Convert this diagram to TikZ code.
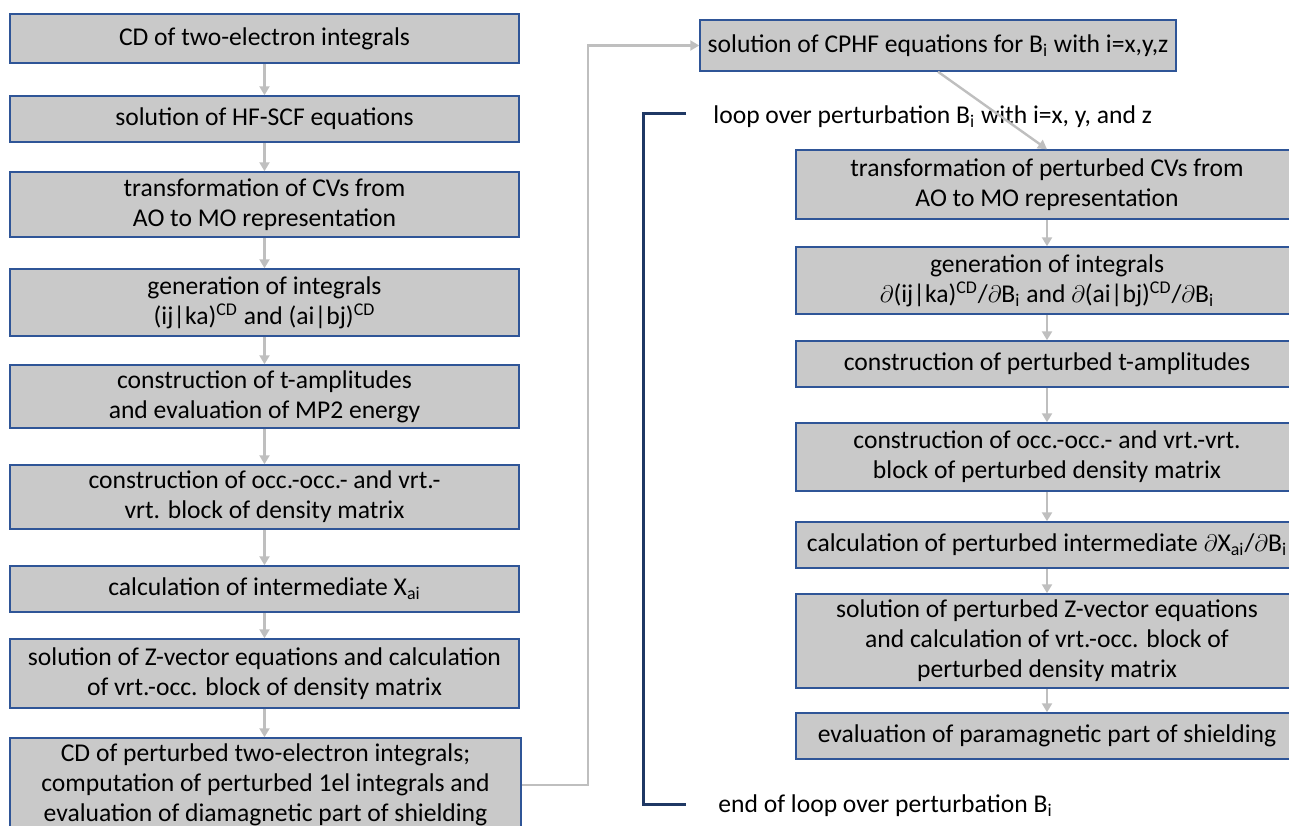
\documentclass[tikz,border=0pt]{standalone}
\usepackage{fontspec}
\setmainfont{Carlito}
\usetikzlibrary{arrows.meta}

\definecolor{boxgray}{RGB}{201,201,201}
\definecolor{boxblue}{RGB}{47,85,151}
\definecolor{flowgray}{RGB}{191,191,191}
\definecolor{loopblue}{RGB}{31,56,100}

\newcommand{\pd}{$\partial$}

\begin{document}
\begin{tikzpicture}[x=0.5pt,y=-0.5pt,
  stepbox/.style={draw=boxblue, fill=boxgray, line width=0.75pt, inner sep=0pt,
    align=center, font=\fontsize{12.8pt}{15pt}\selectfont},
  flow/.style={draw=flowgray, line width=1.2pt, -{Triangle[length=4.5pt,width=5pt]}},
  looplabel/.style={anchor=west, inner sep=0pt, font=\fontsize{12.8pt}{15pt}\selectfont},
  loopline/.style={draw=loopblue, line width=1.5pt}]
  \useasboundingbox (0,0) rectangle (1289,825);
  \clip (0,0) rectangle (1289,825);

  %% Left column: unperturbed steps
  \node[stepbox, minimum width=254.5pt, minimum height=24.5pt] (L1) at (264.5,38.5) {CD of two-electron integrals};
  \node[stepbox, minimum width=254.5pt, minimum height=23pt] (L2) at (264.5,119) {solution of HF-SCF equations};
  \node[stepbox, minimum width=254.5pt, minimum height=32.5pt] (L3) at (264.5,204.5) {transformation of CVs from\\ AO to MO representation};
  \node[stepbox, minimum width=254.5pt, minimum height=33.5pt] (L4) at (264.5,302.5) {generation of integrals\\ (ij|ka)\textsuperscript{CD} and (ai|bj)\textsuperscript{CD}};
  \node[stepbox, minimum width=254.5pt, minimum height=31.5pt] (L5) at (264.5,396.5) {construction of t-amplitudes\\ and evaluation of MP2 energy};
  \node[stepbox, minimum width=254.5pt, minimum height=32pt] (L6) at (264.5,497) {construction of occ.-occ.- and vrt.-\\ vrt. block of density matrix};
  \node[stepbox, minimum width=254.5pt, minimum height=23pt] (L7) at (264.5,589) {calculation of intermediate X\textsubscript{ai}};
  \node[stepbox, minimum width=254.5pt, minimum height=34.5pt] (L8) at (264.5,673.5) {solution of Z-vector equations and calculation\\ of vrt.-occ. block of density matrix};
  \node[stepbox, minimum width=255.5pt, minimum height=47pt] (L9) at (265.5,785) {CD of perturbed two-electron integrals;\\ computation of perturbed 1el integrals and\\ evaluation of diamagnetic part of shielding};

  %% Right column: perturbed steps
  \node[stepbox, minimum width=238pt, minimum height=25.5pt] (R0) at (938,45.5) {solution of CPHF equations for B\textsubscript{i} with i=x,y,z};
  \node[stepbox, minimum width=251pt, minimum height=34.5pt] (R1) at (1047,184.5) {transformation of perturbed CVs from\\ AO to MO representation};
  \node[stepbox, minimum width=251pt, minimum height=33.5pt] (R2) at (1047,280.5) {generation of integrals\\ \pd(ij|ka)\textsuperscript{CD}/\pd B\textsubscript{i} and \pd(ai|bj)\textsuperscript{CD}/\pd B\textsubscript{i}};
  \node[stepbox, minimum width=251pt, minimum height=23pt] (R3) at (1047,364) {construction of perturbed t-amplitudes};
  \node[stepbox, minimum width=251pt, minimum height=34pt] (R4) at (1047,457) {construction of occ.-occ.- and vrt.-vrt.\\ block of perturbed density matrix};
  \node[stepbox, minimum width=251pt, minimum height=23pt] (R5) at (1047,545) {calculation of perturbed intermediate \pd X\textsubscript{ai}/\pd B\textsubscript{i}};
  \node[stepbox, minimum width=251pt, minimum height=47pt] (R6) at (1047,641) {solution of perturbed Z-vector equations\\ and calculation of vrt.-occ. block of\\ perturbed density matrix};
  \node[stepbox, minimum width=251pt, minimum height=23pt] (R7) at (1047,736) {evaluation of paramagnetic part of shielding};

  %% Loop labels and bracket
  \node[looplabel] (loop) at (713,117) {loop over perturbation B\textsubscript{i} with i=x, y, and z};
  \node[looplabel] (endloop) at (718,806) {end of loop over perturbation B\textsubscript{i}};
  \coordinate (looptop) at (686,113);
  \coordinate (loopbot) at (686,804);
  \draw[loopline] (looptop) -- ++(-43,0) |- (loopbot);

  %% Arrows
  \foreach \a/\b in {L1/L2,L2/L3,L3/L4,L4/L5,L5/L6,L6/L7,L7/L8,R1/R2,R2/R3,R3/R4,R4/R5,R5/R6,R6/R7}
    \draw[flow] (\a.south) -- (\b.north);
  \draw[flow] (L8.south) -- (L8.south |- L9.north);
  \draw[flow] (L9.east) -- ++(66,0) |- (R0.west);
  \draw[flow] (R0.south) -- (R1.north);
\end{tikzpicture}
\end{document}
